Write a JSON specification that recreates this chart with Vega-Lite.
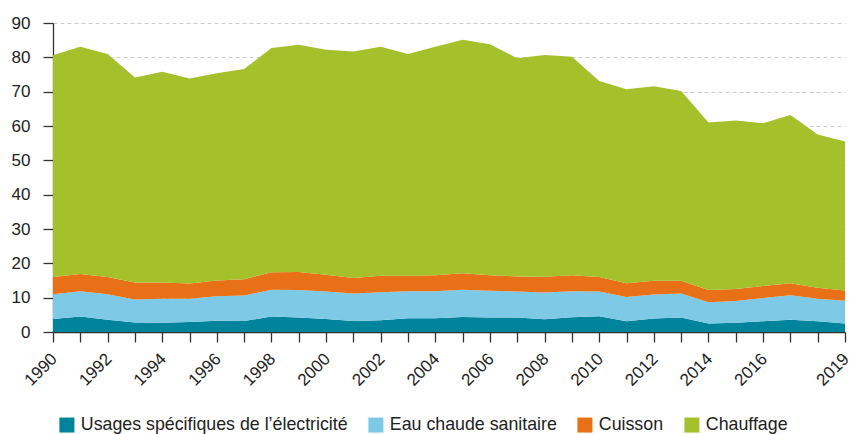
{
  "$schema": "https://vega.github.io/schema/vega-lite/v6.json",
  "width": 792,
  "height": 309,
  "autosize": {"type": "none"},
  "padding": {"left": 53, "top": 23, "right": 5, "bottom": 102},
  "background": "white",
  "config": {
    "view": {"stroke": null},
    "font": "Liberation Sans"
  },
  "data": {
    "values": [
      {"year": 1990, "Usages spécifiques de l’électricité": 3.8, "Eau chaude sanitaire": 7.2, "Cuisson": 5.0, "Chauffage": 64.6},
      {"year": 1991, "Usages spécifiques de l’électricité": 4.5, "Eau chaude sanitaire": 7.4, "Cuisson": 5.0, "Chauffage": 66.2},
      {"year": 1992, "Usages spécifiques de l’électricité": 3.6, "Eau chaude sanitaire": 7.4, "Cuisson": 5.0, "Chauffage": 65.0},
      {"year": 1993, "Usages spécifiques de l’électricité": 2.8, "Eau chaude sanitaire": 6.7, "Cuisson": 4.9, "Chauffage": 59.7},
      {"year": 1994, "Usages spécifiques de l’électricité": 2.7, "Eau chaude sanitaire": 7.0, "Cuisson": 4.7, "Chauffage": 61.4},
      {"year": 1995, "Usages spécifiques de l’électricité": 2.9, "Eau chaude sanitaire": 6.8, "Cuisson": 4.4, "Chauffage": 59.7},
      {"year": 1996, "Usages spécifiques de l’électricité": 3.3, "Eau chaude sanitaire": 7.1, "Cuisson": 4.6, "Chauffage": 60.4},
      {"year": 1997, "Usages spécifiques de l’électricité": 3.2, "Eau chaude sanitaire": 7.4, "Cuisson": 4.8, "Chauffage": 61.2},
      {"year": 1998, "Usages spécifiques de l’électricité": 4.5, "Eau chaude sanitaire": 7.8, "Cuisson": 5.1, "Chauffage": 65.3},
      {"year": 1999, "Usages spécifiques de l’électricité": 4.25, "Eau chaude sanitaire": 8.0, "Cuisson": 5.2, "Chauffage": 66.2},
      {"year": 2000, "Usages spécifiques de l’électricité": 3.8, "Eau chaude sanitaire": 8.0, "Cuisson": 4.9, "Chauffage": 65.5},
      {"year": 2001, "Usages spécifiques de l’électricité": 3.2, "Eau chaude sanitaire": 8.0, "Cuisson": 4.5, "Chauffage": 66.0},
      {"year": 2002, "Usages spécifiques de l’électricité": 3.4, "Eau chaude sanitaire": 8.2, "Cuisson": 4.8, "Chauffage": 66.7},
      {"year": 2003, "Usages spécifiques de l’électricité": 4.0, "Eau chaude sanitaire": 7.9, "Cuisson": 4.5, "Chauffage": 64.6},
      {"year": 2004, "Usages spécifiques de l’électricité": 4.0, "Eau chaude sanitaire": 7.9, "Cuisson": 4.6, "Chauffage": 66.6},
      {"year": 2005, "Usages spécifiques de l’électricité": 4.4, "Eau chaude sanitaire": 7.9, "Cuisson": 4.8, "Chauffage": 68.0},
      {"year": 2006, "Usages spécifiques de l’électricité": 4.2, "Eau chaude sanitaire": 7.8, "Cuisson": 4.5, "Chauffage": 67.3},
      {"year": 2007, "Usages spécifiques de l’électricité": 4.2, "Eau chaude sanitaire": 7.6, "Cuisson": 4.4, "Chauffage": 63.5},
      {"year": 2008, "Usages spécifiques de l’électricité": 3.7, "Eau chaude sanitaire": 7.8, "Cuisson": 4.6, "Chauffage": 64.6},
      {"year": 2009, "Usages spécifiques de l’électricité": 4.3, "Eau chaude sanitaire": 7.6, "Cuisson": 4.6, "Chauffage": 63.7},
      {"year": 2010, "Usages spécifiques de l’électricité": 4.6, "Eau chaude sanitaire": 7.2, "Cuisson": 4.2, "Chauffage": 57.1},
      {"year": 2011, "Usages spécifiques de l’électricité": 3.1, "Eau chaude sanitaire": 7.1, "Cuisson": 4.0, "Chauffage": 56.5},
      {"year": 2012, "Usages spécifiques de l’électricité": 3.9, "Eau chaude sanitaire": 7.0, "Cuisson": 4.0, "Chauffage": 56.7},
      {"year": 2013, "Usages spécifiques de l’électricité": 4.2, "Eau chaude sanitaire": 7.0, "Cuisson": 3.7, "Chauffage": 55.3},
      {"year": 2014, "Usages spécifiques de l’électricité": 2.5, "Eau chaude sanitaire": 6.2, "Cuisson": 3.5, "Chauffage": 48.8},
      {"year": 2015, "Usages spécifiques de l’électricité": 2.7, "Eau chaude sanitaire": 6.3, "Cuisson": 3.5, "Chauffage": 49.1},
      {"year": 2016, "Usages spécifiques de l’électricité": 3.1, "Eau chaude sanitaire": 6.8, "Cuisson": 3.5, "Chauffage": 47.4},
      {"year": 2017, "Usages spécifiques de l’électricité": 3.6, "Eau chaude sanitaire": 7.1, "Cuisson": 3.5, "Chauffage": 49.0},
      {"year": 2018, "Usages spécifiques de l’électricité": 3.1, "Eau chaude sanitaire": 6.6, "Cuisson": 3.2, "Chauffage": 44.6},
      {"year": 2019, "Usages spécifiques de l’électricité": 2.5, "Eau chaude sanitaire": 6.6, "Cuisson": 3.0, "Chauffage": 43.4}
    ]
  },
  "transform": [
    {"fold": ["Usages spécifiques de l’électricité", "Eau chaude sanitaire", "Cuisson", "Chauffage"], "as": ["serie", "v"]}
  ],
  "mark": {"type": "area", "interpolate": "linear"},
  "encoding": {
    "x": {
      "field": "year",
      "type": "quantitative",
      "scale": {"domain": [1990, 2019], "nice": false, "zero": false},
      "axis": {
        "title": null,
        "values": [1990,1991,1992,1993,1994,1995,1996,1997,1998,1999,2000,2001,2002,2003,2004,2005,2006,2007,2008,2009,2010,2011,2012,2013,2014,2015,2016,2017,2018,2019],
        "labelExpr": "((datum.value % 2 == 0 && datum.value != 2018) || datum.value == 2019) ? datum.value : ''",
        "labelOverlap": false,
        "labelBound": false,
        "labelFlush": false,
        "labelAngle": -45,
        "labelAlign": "right",
        "labelBaseline": "middle",
        "labelOffset": 1,
        "labelFontSize": 17,
        "labelColor": "#222222",
        "labelPadding": 14,
        "tickSize": 10,
        "tickColor": "#333333",
        "tickWidth": 1.3,
        "domainColor": "#333333",
        "domainWidth": 1.3,
        "grid": false,
        "format": "d"
      }
    },
    "y": {
      "field": "v",
      "type": "quantitative",
      "stack": "zero",
      "scale": {"domain": [0, 90], "nice": false},
      "axis": {
        "title": null,
        "values": [0,10,20,30,40,50,60,70,80,90],
        "labelFontSize": 17,
        "labelColor": "#222222",
        "labelPadding": 13,
        "tickSize": 10,
        "tickColor": "#333333",
        "tickWidth": 1.3,
        "domainColor": "#333333",
        "domainWidth": 1.3,
        "grid": true,
        "gridColor": "#cccccc",
        "gridDash": [4, 3],
        "gridWidth": 1
      }
    },
    "color": {
      "field": "serie",
      "type": "nominal",
      "scale": {
        "domain": ["Usages spécifiques de l’électricité", "Eau chaude sanitaire", "Cuisson", "Chauffage"],
        "range": ["#00849B", "#7DC9E6", "#E87118", "#A4C02A"]
      },
      "legend": {
        "title": null,
        "orient": "none",
        "direction": "horizontal",
        "legendX": 5,
        "legendY": 393,
        "symbolType": "square",
        "symbolSize": 225,
        "symbolStrokeWidth": 0,
        "symbolOpacity": 1,
        "labelFontSize": 17.8,
        "labelLimit": 0,
        "labelColor": "#222222",
        "labelOffset": 5,
        "columnPadding": 19
      }
    },
    "order": {"field": "serie", "sort": "descending"}
  }
}
